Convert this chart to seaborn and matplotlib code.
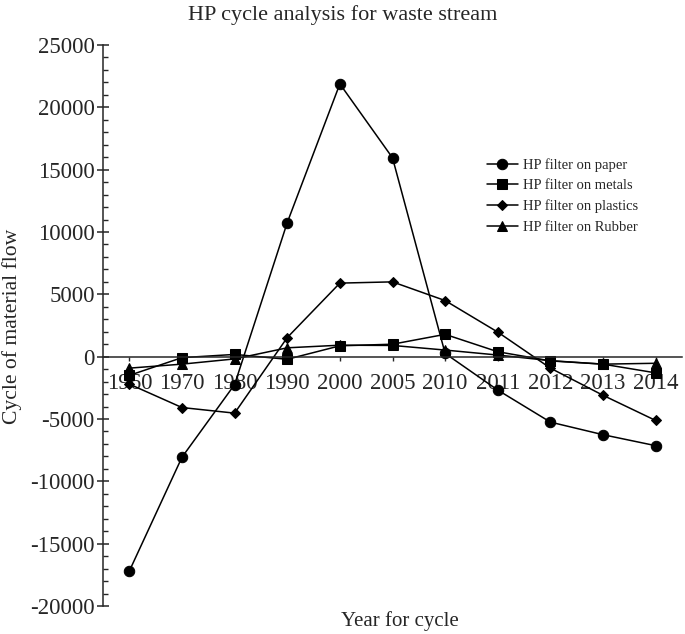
import numpy as np
import pandas as pd
import matplotlib
matplotlib.use("Agg")
import matplotlib.pyplot as plt
import seaborn as sns
from matplotlib.ticker import MultipleLocator

years = ["1960", "1970", "1980", "1990", "2000", "2005", "2010", "2011", "2012", "2013", "2014"]
paper = [-17200, -8070, -2240, 10750, 21880, 15950, 260, -2680, -5250, -6260, -7140]
metals = [-1500, -80, 180, -210, 870, 1000, 1790, 395, -340, -600, -1300]
plastics = [-2200, -4080, -4530, 1530, 5900, 6000, 4500, 1970, -920, -3100, -5120]
rubber = [-920, -600, -180, 710, 920, 900, 530, 130, -320, -600, -530]

series = [
    ("HP filter on paper", paper, "o", 7.5),
    ("HP filter on metals", metals, "s", 6.5),
    ("HP filter on plastics", plastics, "D", 5.0),
    ("HP filter on Rubber", rubber, "^", 7.0),
]


def main():
    sns.set_style("ticks")
    plt.rcParams["font.family"] = ["Liberation Serif", "DejaVu Serif"]
    plt.rcParams["axes.unicode_minus"] = False

    fig = plt.figure(figsize=(6.85, 6.34), dpi=100)
    ax = fig.add_axes([103 / 685, 1 - 606 / 634, (682 - 103) / 685, (606 - 45) / 634])

    pos = np.arange(len(years))
    for label, vals, mk, ms in series:
        df = pd.DataFrame({"pos": pos, "val": vals})
        sns.lineplot(data=df, x="pos", y="val", ax=ax, color="black", marker=mk,
                     markersize=ms, markeredgecolor="black", linewidth=1.1,
                     label=label)

    ax.set_xlim(-0.5, len(years) - 0.5)
    ax.set_ylim(-20000, 25000)
    ax.set_xticks(pos)
    ax.set_xticklabels(years)
    ax.yaxis.set_major_locator(MultipleLocator(5000))
    ax.yaxis.set_minor_locator(MultipleLocator(1000))

    ax.spines["top"].set_visible(False)
    ax.spines["right"].set_visible(False)
    ax.spines["bottom"].set_position(("data", 0))
    for s in ["left", "bottom"]:
        ax.spines[s].set_linewidth(1.1)

    ax.tick_params(axis="y", which="major", direction="inout", length=8, width=1.1,
                   labelsize=16.5, pad=2)
    ax.tick_params(axis="y", which="minor", direction="in", length=3.6, width=1.0)
    ax.tick_params(axis="x", which="major", direction="out", length=3, width=1.0,
                   labelsize=16.5, pad=9)

    ax.set_xlabel("")
    ax.set_ylabel("")
    fig.text(12 / 685, 1 - 326 / 634, "Cycle of material flow", rotation=90,
             ha="center", va="center", fontsize=15.6)
    fig.text(400 / 685, 1 - 621 / 634, "Year for cycle", ha="center", va="center",
             fontsize=15)
    fig.text(0.5, 1 - 15 / 634, "HP cycle analysis for waste stream", ha="center",
             va="center", fontsize=16)

    ax.legend(loc="upper left", bbox_to_anchor=(487 / 685, 1 - 158 / 634),
              bbox_transform=fig.transFigure, frameon=False, fontsize=10.5,
              handlelength=2.1, handletextpad=0.35, labelspacing=0.5,
              borderpad=0, borderaxespad=0)

    fig.savefig("out.png", dpi=100)


if __name__ == "__main__":
    main()
